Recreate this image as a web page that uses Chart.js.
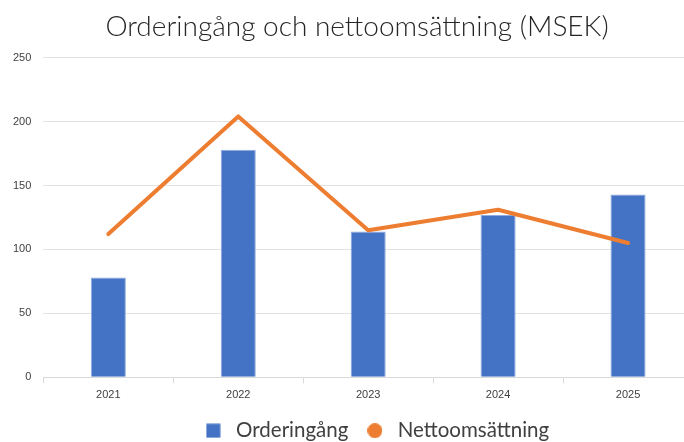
<!DOCTYPE html>
<html>
<head>
<meta charset="utf-8">
<script src="https://cdn.jsdelivr.net/npm/chart.js@4"></script>
<style>
  html, body { margin: 0; padding: 0; background: #fff; overflow: hidden; }
  #wrap { width: 712px; height: 442px; position: relative; }
</style>
</head>
<body>
<div id="wrap"><canvas id="myChart"></canvas></div>
<script>
const years = ["2021", "2022", "2023", "2024", "2025"];
const orderingang = [78, 178, 114, 127, 143];
const nettoomsattning = [112, 204, 115, 131, 105];
const yTicks = [0, 50, 100, 150, 200, 250];

// small legend markers, same size for square and dot
function marker(shape, color) {
  const c = document.createElement("canvas");
  c.width = 15;
  c.height = 15;
  const g = c.getContext("2d");
  g.fillStyle = color;
  if (shape === "square") {
    g.fillRect(0.5, 0.5, 14, 14);
  } else {
    g.beginPath();
    g.arc(7.5, 7.5, 7.5, 0, Math.PI * 2);
    g.fill();
  }
  return c;
}

// title and legend sit a bit right of the plot centre in the original
const nudgeBoxes = {
  id: "nudgeBoxes",
  afterLayout(chart) {
    if (chart.titleBlock) {
      chart.titleBlock.left += 10;
      chart.titleBlock.right += 10;
    }
    if (chart.legend) {
      chart.legend.left += 28;
      chart.legend.right += 28;
    }
  },
};

const ctx = document.getElementById("myChart").getContext("2d");

window.chart = new Chart(ctx, {
  type: "bar",
  data: {
    labels: years,
    datasets: [
      {
        type: "bar",
        label: "Orderingång",
        data: orderingang,
        backgroundColor: "#4472C4",
        borderColor: "#8faadc",
        borderWidth: 1,
        barPercentage: 0.27,
        categoryPercentage: 1,
        pointStyle: marker("square", "#4472C4"),
        order: 1,
      },
      {
        type: "line",
        label: "Nettoomsättning",
        data: nettoomsattning,
        borderColor: "#ED7D31",
        backgroundColor: "#ED7D31",
        borderWidth: 4,
        borderCapStyle: "round",
        borderJoinStyle: "round",
        pointRadius: 0,
        pointStyle: marker("dot", "#ED7D31"),
        tension: 0,
        order: 0,
      },
    ],
  },
  options: {
    responsive: true,
    maintainAspectRatio: false,
    animation: false,
    layout: { padding: { left: 1, right: 19, top: 4, bottom: -9 } },
    plugins: {
      title: {
        display: true,
        text: "Orderingång och nettoomsättning (MSEK)",
        color: "#262626",
        font: { family: "Lato", size: 28, weight: 300 },
        padding: { top: 6, bottom: 14 },
      },
      legend: {
        position: "bottom",
        labels: {
          usePointStyle: true,
          pointStyleWidth: 25,
          boxWidth: 25,
          boxHeight: 15,
          padding: 14,
          color: "#404040",
          font: { family: "Lato", size: 20.5 },
          sort: (a, b) => a.datasetIndex - b.datasetIndex,
        },
      },
      tooltip: { enabled: false },
    },
    scales: {
      x: {
        offset: true,
        grid: {
          offset: true,
          drawOnChartArea: false,
          drawTicks: true,
          tickLength: 6,
          color: "#d9d9d9",
        },
        border: { color: "#d9d9d9" },
        ticks: {
          color: "#404040",
          font: { family: "Liberation Sans", size: 11 },
          padding: 5,
        },
      },
      y: {
        min: 0,
        max: 250,
        afterBuildTicks: (axis) => {
          axis.ticks = yTicks.map((v) => ({ value: v }));
        },
        grid: { color: "#e3e3e3", drawTicks: false },
        border: { display: false },
        ticks: {
          color: "#404040",
          font: { family: "Liberation Sans", size: 11 },
          padding: 12,
        },
      },
    },
  },
  plugins: [nudgeBoxes],
});
</script>
</body>
</html>
